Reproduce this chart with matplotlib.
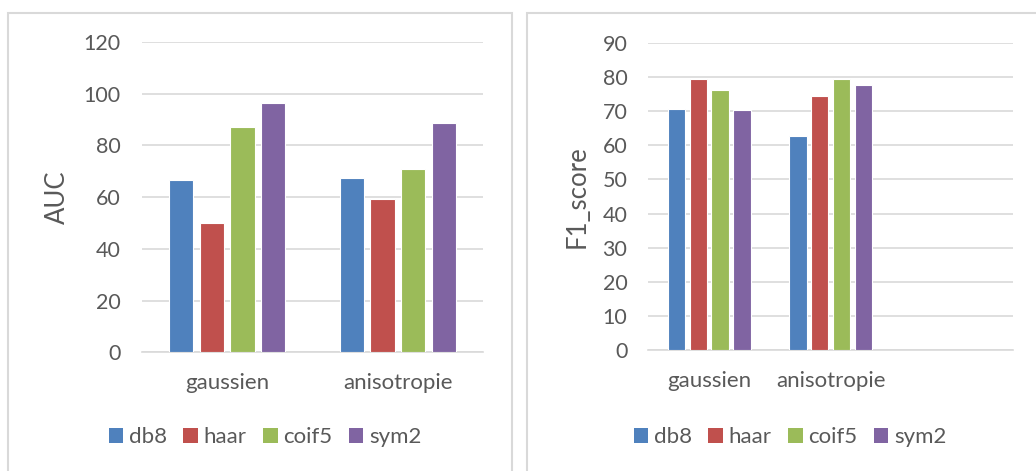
import numpy as np
import matplotlib
matplotlib.use("Agg")
import matplotlib.pyplot as plt
from matplotlib.patches import Rectangle, Patch

plt.rcParams['font.family'] = ['Lato', 'DejaVu Sans']

# data
series = ["db8", "haar", "coif5", "sym2"]
colors = ["#4F81BD", "#C0504D", "#9BBB59", "#8064A2"]

auc_cats = ["gaussien", "anisotropie"]
auc_db8 = [66.5, 67.5]
auc_haar = [50.0, 59.2]
auc_coif5 = [87.3, 70.9]
auc_sym2 = [96.3, 88.8]

f1_cats = ["gaussien", "anisotropie", ""]
f1_db8 = [70.8, 62.9]
f1_haar = [79.5, 74.4]
f1_coif5 = [76.3, 79.5]
f1_sym2 = [70.4, 77.8]

txt = "#595959"
grid = "#D9D9D9"

fig = plt.figure(figsize=(10.36, 4.71), dpi=100)

# panel frames
fig.patches.append(Rectangle((8 / 1036, -0.05), 504 / 1036, 1 - 13 / 471 + 0.05,
                             transform=fig.transFigure, fill=False,
                             edgecolor=grid, linewidth=1.5))
fig.patches.append(Rectangle((527 / 1036, -0.05), 0.6, 1 - 13 / 471 + 0.05,
                             transform=fig.transFigure, fill=False,
                             edgecolor=grid, linewidth=1.5))


def draw(ax, cats, vals, ymax, step, ylabel, label_x):
    x = np.arange(len(cats))
    slot = 0.18
    for i, (v, c) in enumerate(zip(vals, colors)):
        ax.bar(x[:len(v)] + (i - 1.5) * slot, v, width=0.142, color=c,
               edgecolor="white", linewidth=0.8, zorder=3)
    ax.set_xlim(-0.5, len(cats) - 0.5)
    ax.set_ylim(0, ymax)
    ax.set_yticks(np.arange(0, ymax + 1, step))
    ax.set_xticks(x)
    ax.set_xticklabels(cats)
    ax.grid(axis="y", color=grid, linewidth=1.2, zorder=0)
    for s in ["top", "right", "left"]:
        ax.spines[s].set_visible(False)
    ax.spines["bottom"].set_color(grid)
    ax.spines["bottom"].set_linewidth(1.2)
    ax.tick_params(axis="y", length=0, pad=15, labelsize=15.5, labelcolor=txt)
    ax.tick_params(axis="x", length=0, pad=15, labelsize=16, labelcolor=txt)
    ax.set_ylabel(ylabel, fontsize=18.5, color=txt)
    ax.yaxis.set_label_coords(label_x, 0.5)


ax1 = fig.add_axes([141.7 / 1036, (471 - 352.3) / 471, 341.6 / 1036, 310.3 / 471])
draw(ax1, auc_cats, [auc_db8, auc_haar, auc_coif5, auc_sym2], 120, 20, "AUC", -0.21)

ax2 = fig.add_axes([648.3 / 1036, (471 - 349.7) / 471, 365 / 1036, 306.4 / 471])
draw(ax2, f1_cats, [f1_db8, f1_haar, f1_coif5, f1_sym2], 90, 10, "F1_score", -0.162)

handles = [Patch(facecolor=c, edgecolor="none") for c in colors]
for cx in [265 / 1036, 790 / 1036]:
    fig.legend(handles, series, loc="center", bbox_to_anchor=(cx, 1 - 437 / 471),
               ncol=4, frameon=False, fontsize=16, labelcolor=txt,
               handlelength=0.65, handleheight=0.65, handletextpad=0.25,
               columnspacing=0.75)

fig.savefig("out.png", dpi=100)
